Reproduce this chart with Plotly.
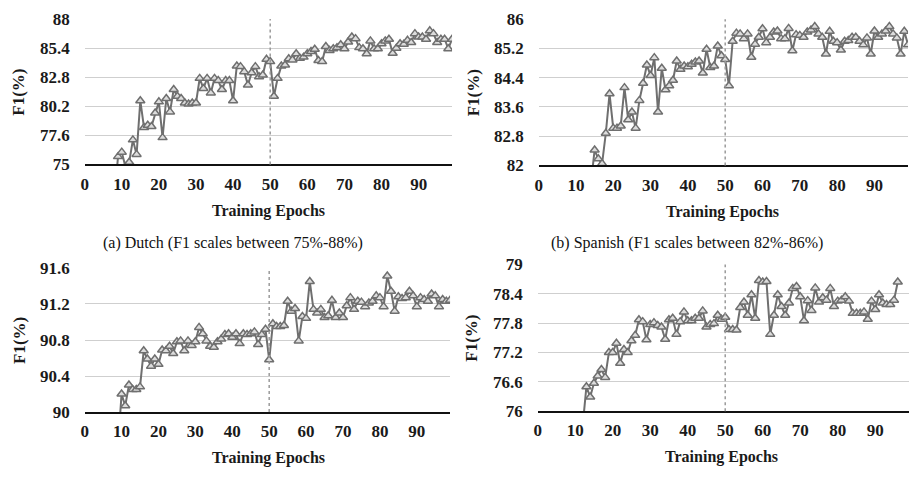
import plotly.graph_objects as go

# ---------------- data ----------------
x_ticks = [0, 10, 20, 30, 40, 50, 60, 70, 80, 90]

dutch_start = 8
dutch_f1 = [72, 75.7, 76.1, 74.8, 75.2, 77.2, 75.9, 80.7, 78.3, 78.5, 78.4, 79.6, 80.6, 77.4,
            80.9, 79.7, 81.7, 81.1, 80.9, 80.5, 80.4, 80.5, 80.5, 82.7, 81.8, 82.7, 81.4, 82.7,
            82.5, 81.7, 82.5, 82.5, 80.7, 83.8, 83.75, 83.3, 82.1, 83.2, 83.75, 82.85, 83.0, 84.4,
            84.2, 81.1, 82.7, 83.8, 83.9, 84.45, 84.35, 84.9, 84.5, 84.6, 84.9, 85.1, 85.3, 84.3,
            84.2, 85.55, 85.2, 85.35, 85.45, 85.7, 85.35, 85.95, 86.4, 86.25, 85.45, 85.35, 84.9,
            86.05, 85.35, 85.35, 85.8, 86.05, 86.2, 84.95, 85.4, 85.8, 85.75, 86.1, 85.9, 86.7,
            86.4, 86.4, 86.2, 86.95, 86.7, 85.9, 86.2, 86.2, 85.35, 86.2]
dutch_ticks = [75, 77.6, 80.2, 82.8, 85.4, 88]

spanish_start = 14
spanish_f1 = [81.5, 82.42, 82.18, 82.05, 82.88, 83.96, 83.02, 83.02, 83.08, 84.13, 83.25, 83.46,
              83.02, 83.78, 84.25, 84.75, 84.46, 84.95, 83.46, 84.66, 84.07, 84.18, 84.33, 84.86,
              84.63, 84.72, 84.7, 84.77, 84.83, 84.86, 84.53, 85.18, 84.68, 84.72, 85.27, 85.0,
              84.9, 84.18, 85.4, 85.62, 85.6, 85.47, 85.6, 84.96, 85.32, 85.51, 85.74, 85.36,
              85.51, 85.65, 85.68, 85.47, 85.47, 85.75, 85.14, 85.58, 85.56, 85.51, 85.65, 85.71,
              85.8, 85.6, 85.51, 85.05, 85.67, 85.4, 85.36, 85.16, 85.4, 85.42, 85.51, 85.51,
              85.4, 85.3, 85.49, 85.05, 85.68, 85.51, 85.6, 85.68, 85.8, 85.6, 85.49, 85.05,
              85.67, 85.3]
spanish_ticks = [82, 82.8, 83.6, 84.4, 85.2, 86]

third_start = 9
third_f1 = [89.6, 90.2, 90.07, 90.3, 90.25, 90.25, 90.28, 90.68, 90.59, 90.51, 90.59, 90.53,
            90.69, 90.68, 90.73, 90.65, 90.78, 90.79, 90.68, 90.79, 90.74, 90.78, 90.94, 90.87,
            90.79, 90.73, 90.72, 90.78, 90.81, 90.86, 90.87, 90.83, 90.87, 90.76, 90.87, 90.86,
            90.87, 90.89, 90.75, 90.86, 90.92, 90.58, 90.98, 90.95, 90.95, 90.96, 91.23, 91.12,
            91.15, 90.79, 91.06, 91.04, 91.45, 91.14, 91.1, 91.14, 91.05, 91.07, 91.24, 91.05,
            91.1, 91.05, 91.18, 91.27, 91.14, 91.23, 91.22, 91.17, 91.21, 91.23, 91.29, 91.27,
            91.17, 91.51, 91.34, 91.12, 91.28, 91.26, 91.27, 91.34, 91.29, 91.17, 91.27, 91.25,
            91.23, 91.31, 91.29, 91.17, 91.25, 91.23, 91.24]
third_ticks = [90, 90.4, 90.8, 91.2, 91.6]

fourth_start = 12
fourth_f1 = [75.7, 76.5, 76.29, 76.57, 76.72, 76.85, 76.69, 77.2, 77.2, 77.39, 76.98, 77.26,
             77.2, 77.44, 77.55, 77.87, 77.83, 77.46, 77.77, 77.81, 77.75, 77.72, 77.47, 77.87,
             77.9, 77.57, 77.83, 78.03, 77.85, 77.85, 77.9, 77.9, 78.05, 77.72, 77.77, 77.79,
             77.96, 77.88, 77.92, 77.67, 77.67, 77.66, 78.12, 78.23, 77.96, 78.38, 77.9, 78.67,
             78.64, 78.65, 77.57, 77.96, 78.38, 78.14, 77.96, 78.21, 78.51, 78.55, 78.34, 77.85,
             78.26, 78.06, 78.52, 78.23, 78.32, 78.27, 78.51, 78.14, 78.25, 78.27, 78.34, 78.25,
             78.0, 78.0, 78.0, 78.03, 77.88, 78.25, 78.08, 78.38, 78.21, 78.18, 78.18, 78.27,
             78.64]
fourth_ticks = [76, 76.6, 77.2, 77.8, 78.4, 79]

split_epoch = 50

# ---------------- figure ----------------
W, H = 913, 492
LINE = "#6f6f6f"
GRID = "#cfcfcf"

panels = [
    # (start, values, yticks, x px range, y px range (top, bottom))
    (dutch_start, dutch_f1, dutch_ticks, (81, 450), (10.5, 161.7)),
    (spanish_start, spanish_f1, spanish_ticks, (537, 908), (10.7, 162.7)),
    (third_start, third_f1, third_ticks, (81, 448), (269.3, 419.3)),
    (fourth_start, fourth_f1, fourth_ticks, (536, 909), (265.7, 418.3)),
]

fig = go.Figure()
layout = dict(width=W, height=H, margin=dict(l=0, r=0, t=0, b=0),
              paper_bgcolor="white", plot_bgcolor="white", showlegend=False)
shapes = []
annotations = []

for i, (start, vals, yt, (x0, x1), (yt0, yb)) in enumerate(panels, start=1):
    epochs = list(range(start, start + len(vals)))
    xa = "x" if i == 1 else f"x{i}"
    ya = "y" if i == 1 else f"y{i}"
    fig.add_trace(go.Scatter(
        x=epochs, y=vals, xaxis=xa, yaxis=ya, mode="lines+markers",
        line=dict(color=LINE, width=2),
        marker=dict(symbol="triangle-up", size=8, color="#dcdcdc",
                    line=dict(color=LINE, width=1.5)),
        cliponaxis=True,
    ))
    xkey = "xaxis" if i == 1 else f"xaxis{i}"
    ykey = "yaxis" if i == 1 else f"yaxis{i}"
    layout[xkey] = dict(
        domain=[x0 / W, x1 / W], anchor=ya, range=[0, 99],
        tickmode="array", tickvals=x_ticks, ticktext=[str(t) for t in x_ticks],
        showgrid=False, zeroline=False, showline=True, linecolor="#111", linewidth=1.5,
        ticks="", ticklabelstandoff=3,
        tickfont=dict(family="Liberation Serif", size=17, color="#1a1a1a", weight="bold"),
    )
    layout[ykey] = dict(
        domain=[1 - yb / H, 1 - yt0 / H], anchor=xa, range=[yt[0], yt[-1]],
        tickmode="array", tickvals=yt, ticktext=[f"{t:g}" for t in yt],
        showgrid=True, gridcolor=GRID, gridwidth=1.2, zeroline=False, showline=False,
        ticks="", ticklabelstandoff=14,
        tickfont=dict(family="Liberation Serif", size=17, color="#1a1a1a", weight="bold"),
    )
    shapes.append(dict(type="line", xref=xa, yref=f"{ya} domain", x0=split_epoch, x1=split_epoch,
                       y0=0, y1=1, line=dict(color="#9a9a9a", width=1.5, dash="dot")))
    # axis titles
    ymid = (yt0 + yb) / 2
    annotations.append(dict(text="<b>F1(%)</b>", x=(x0 - 66) / W, y=1 - ymid / H,
                            xref="paper", yref="paper", showarrow=False, textangle=-90,
                            font=dict(family="Liberation Serif", size=17, color="#1a1a1a"),
                            xanchor="center", yanchor="middle"))
    annotations.append(dict(text="<b>Training Epochs</b>", x=(x0 + 185) / W,
                            y=1 - (yb + 48) / H, xref="paper", yref="paper", showarrow=False,
                            font=dict(family="Liberation Serif", size=16, color="#1a1a1a"),
                            xanchor="center", yanchor="middle"))

annotations.append(dict(text="(a) Dutch (F1 scales between 75%-88%)", x=230 / W, y=1 - 243 / H,
                        xref="paper", yref="paper", showarrow=False,
                        font=dict(family="Liberation Serif", size=16, color="#111"),
                        xanchor="center", yanchor="middle"))
annotations.append(dict(text="(b) Spanish (F1 scales between 82%-86%)", x=686 / W, y=1 - 243 / H,
                        xref="paper", yref="paper", showarrow=False,
                        font=dict(family="Liberation Serif", size=16, color="#111"),
                        xanchor="center", yanchor="middle"))

layout["shapes"] = shapes
layout["annotations"] = annotations
fig.update_layout(**layout)
fig.write_html("out.html")
